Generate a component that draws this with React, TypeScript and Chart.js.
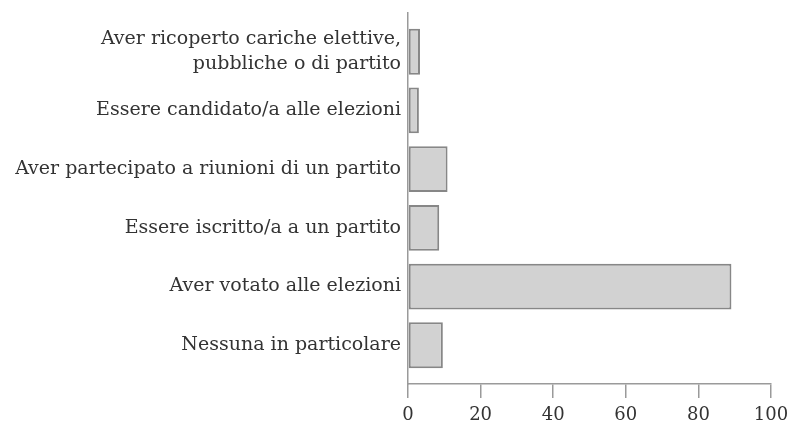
import React, { useEffect, useRef } from "react";
import { Chart, registerables } from "chart.js";

Chart.register(...registerables);

const categories: (string | string[])[] = [
  ["Aver ricoperto cariche elettive,", "pubbliche o di partito"],
  "Essere candidato/a alle elezioni",
  "Aver partecipato a riunioni di un partito",
  "Essere iscritto/a a un partito",
  "Aver votato alle elezioni",
  "Nessuna in particolare",
];
const values = [3.3, 3.0, 10.9, 8.6, 89.1, 9.6];
const xTicks = [0, 20, 40, 60, 80, 100];

const textColor = "#333333";
const axisColor = "#9a9a9a";
const fontFamily = "'DejaVu Serif', serif";

export default function App() {
  const ref = useRef<HTMLCanvasElement | null>(null);

  useEffect(() => {
    if (!ref.current) return;
    const chart = new Chart(ref.current, {
      type: "bar",
      data: {
        datasets: [
          {
            data: values.map((v, i) => ({ x: v, y: i })),
            backgroundColor: "#d2d2d2",
            borderColor: "#878787",
            borderWidth: 2,
            borderSkipped: false,
            barPercentage: 0.78,
            categoryPercentage: 1,
          },
        ],
      },
      options: {
        indexAxis: "y",
        animation: false,
        responsive: true,
        maintainAspectRatio: false,
        layout: { padding: { top: 13, right: 0, left: 0, bottom: 0 } },
        plugins: {
          legend: { display: false },
          tooltip: { enabled: false },
        },
        scales: {
          y: {
            type: "linear",
            reverse: true,
            offset: false,
            bounds: "data",
            min: -0.66,
            max: 5.66,
            afterBuildTicks: (scale: any) => {
              scale.ticks = categories.map((_, i) => ({ value: i }));
            },
            afterFit: (scale: any) => {
              scale.width = 408;
              scale.paddingTop = 0;
              scale.paddingBottom = 0;
            },
            grid: {
              display: true,
              offset: false,
              drawOnChartArea: false,
              drawTicks: false,
            },
            border: { display: true, color: axisColor, width: 1.5 },
            ticks: {
              autoSkip: false,
              padding: 7,
              color: textColor,
              font: { family: fontFamily, size: 19, lineHeight: 1.3 },
              callback: (v: any) => categories[Math.round(Number(v))] ?? "",
            },
          },
          x: {
            type: "linear",
            min: 0,
            max: 100,
            afterBuildTicks: (scale: any) => {
              scale.ticks = xTicks.map((v) => ({ value: v }));
            },
            afterFit: (scale: any) => {
              scale.height = 38;
              scale.paddingRight = 20;
              scale.paddingLeft = 0;
            },
            grid: {
              drawOnChartArea: false,
              drawTicks: true,
              tickLength: 14,
              color: axisColor,
              lineWidth: 1.5,
            },
            border: { display: true, color: axisColor, width: 1.5 },
            ticks: {
              padding: 7,
              color: textColor,
              font: { family: fontFamily, size: 18 },
            },
          },
        },
      },
    });
    return () => chart.destroy();
  }, []);

  return (
    <div
      style={{
        position: "fixed",
        left: 0,
        top: 0,
        width: 791,
        height: 422,
        background: "#ffffff",
      }}
    >
      <canvas ref={ref} />
    </div>
  );
}
